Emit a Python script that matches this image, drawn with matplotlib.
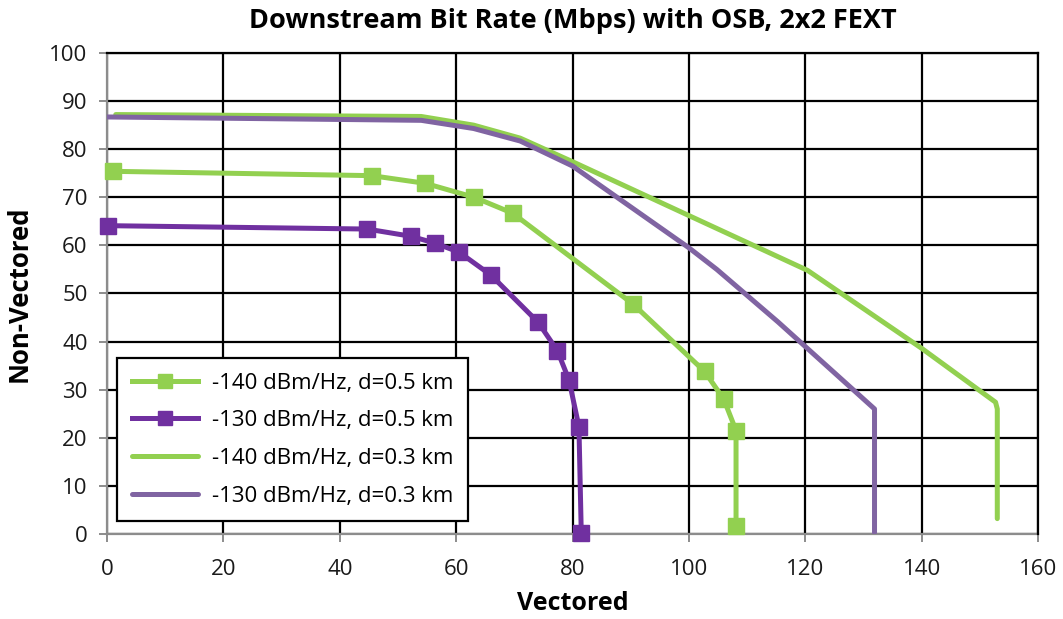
import matplotlib.pyplot as plt

# series (Vectored, Non-Vectored)
x_140_05 = [1.0, 45.5, 54.7, 63.1, 69.7, 90.4, 102.7, 106.0, 108.1, 108.1]
y_140_05 = [75.4, 74.5, 72.9, 70.0, 66.7, 47.8, 33.8, 28.0, 21.5, 1.7]

x_130_05 = [0.2, 44.7, 52.2, 56.3, 60.5, 66.0, 74.1, 77.4, 79.4, 81.1, 81.5]
y_130_05 = [64.1, 63.4, 61.9, 60.5, 58.6, 53.8, 44.0, 38.1, 32.0, 22.3, 0.3]

x_140_03 = [1.5, 54.0, 63.0, 71.0, 80.0, 100.0, 120.4, 140.0, 152.7, 153.0, 153.0]
y_140_03 = [87.2, 86.8, 85.0, 82.3, 77.4, 66.2, 54.8, 38.6, 27.4, 26.0, 3.2]

x_130_03 = [0.0, 54.0, 63.0, 71.0, 80.0, 100.0, 104.8, 115.3, 131.9, 131.9]
y_130_03 = [86.7, 86.0, 84.3, 81.7, 76.5, 59.5, 55.0, 44.1, 26.0, 0.3]

labels = ['-140 dBm/Hz, d=0.5 km', '-130 dBm/Hz, d=0.5 km',
          '-140 dBm/Hz, d=0.3 km', '-130 dBm/Hz, d=0.3 km']

GREEN = '#92D050'
PURPLE = '#7030A0'
PURPLE_LIGHT = '#8064A2'

plt.rcParams['font.family'] = ['Open Sans', 'DejaVu Sans']

fig = plt.figure(figsize=(10.63, 6.19), dpi=100)
ax = fig.add_axes([0.1007, 0.1373, 0.8758, 0.7771])

lw = 3.6
l1, = ax.plot(x_140_05, y_140_05, color=GREEN, lw=lw, marker='s', ms=12,
              clip_on=False, zorder=5, label=labels[0])
l2, = ax.plot(x_130_05, y_130_05, color=PURPLE, lw=lw, marker='s', ms=12,
              clip_on=False, zorder=5, label=labels[1])
l3, = ax.plot(x_140_03, y_140_03, color=GREEN, lw=lw, zorder=3,
              solid_capstyle='round', label=labels[2])
l4, = ax.plot(x_130_03, y_130_03, color=PURPLE_LIGHT, lw=lw, zorder=4,
              solid_capstyle='round', label=labels[3])

ax.set_xlim(0, 160)
ax.set_ylim(0, 100)
ax.set_xticks(range(0, 161, 20))
ax.set_yticks(range(0, 101, 10))
ax.grid(True, color='black', lw=1.6)
ax.set_axisbelow(True)

for s in ['top', 'right']:
    ax.spines[s].set_color('black')
    ax.spines[s].set_linewidth(1.6)
for s in ['left', 'bottom']:
    ax.spines[s].set_color('#8c8c8c')
    ax.spines[s].set_linewidth(1.6)
    ax.spines[s].set_zorder(2)

ax.tick_params(axis='both', direction='out', length=6, width=1.4,
               color='#8c8c8c', labelsize=16, labelcolor='#1a1a1a')
ax.tick_params(axis='x', pad=12)
ax.tick_params(axis='y', pad=8)

ax.set_xlabel('Vectored', fontsize=18, fontweight='bold', labelpad=8)
ax.set_ylabel('Non-Vectored', fontsize=18.5, fontweight='bold', labelpad=12)
ax.set_title('Downstream Bit Rate (Mbps) with OSB, 2x2 FEXT',
             fontsize=19.5, fontweight='bold', pad=18)

leg = ax.legend(handles=[l1, l2, l3, l4], loc='lower left',
                bbox_to_anchor=(0.011, 0.027), borderaxespad=0, fontsize=16,
                fancybox=False, framealpha=1, edgecolor='black',
                handlelength=3.0, markerscale=0.8, borderpad=0.65,
                labelspacing=0.75, handletextpad=0.6)
leg.get_frame().set_linewidth(1.6)
leg.set_zorder(10)

fig.savefig('out.png', dpi=100)
